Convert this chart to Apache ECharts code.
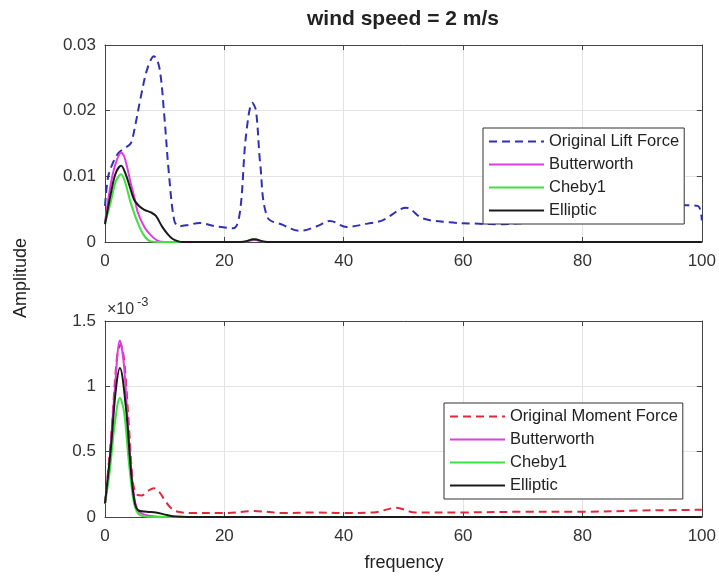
<!DOCTYPE html>
<html>
<head>
<meta charset="utf-8">
<script src="https://cdn.jsdelivr.net/npm/echarts@6/dist/echarts.min.js"></script>
<style>
html,body{margin:0;padding:0;background:#fff;}
#c{width:719px;height:580px;}
</style>
</head>
<body>
<div id="c"></div>
<script>
// ---- data (frequency, amplitude) ----
var xTicks = [0, 20, 40, 60, 80, 100];
var liftTicks = [0, 0.01, 0.02, 0.03];
var momentTicks = [0, 0.5, 1, 1.5]; // in units of 1e-3

var liftOriginal = [[0,0.0055],[0.5,0.0098],[1.2,0.0118],[2.2,0.0135],[3.3,0.0143],[4.3,0.0150],[4.9,0.0170],[6.0,0.0221],[7.1,0.0264],[8.2,0.0283],[9.1,0.0266],[9.9,0.0196],[10.7,0.0105],[11.6,0.0033],[12.4,0.0024],[14,0.0026],[15.8,0.0029],[18.5,0.0024],[21.5,0.0021],[22.6,0.0045],[23.6,0.0160],[24.7,0.0212],[25.3,0.0200],[26,0.0120],[27.2,0.0038],[29.8,0.0026],[32.7,0.0017],[35.5,0.0024],[37.7,0.0032],[40.5,0.0023],[44,0.0028],[46.5,0.0033],[50.5,0.0052],[53.2,0.0036],[57.7,0.0030],[62,0.0028],[66,0.0027],[72,0.0030],[78,0.0033],[84,0.0037],[90,0.0043],[94,0.0052],[96.5,0.0056],[99.3,0.0055],[100,0.0033]];
var liftButter = [[0,0.0030],[1.0,0.0090],[1.8,0.0120],[2.7,0.0136],[3.3,0.0128],[4.3,0.0090],[4.9,0.0069],[5.5,0.0045],[6.6,0.0023],[7.7,0.0010],[8.8,0.0002],[10,0],[22,0],[23.5,0.0001],[25,0.0003],[26.5,0.0001],[28,0],[100,0]];
var liftCheby = [[0,0.0028],[1.0,0.0062],[1.8,0.0092],[2.7,0.0103],[3.4,0.0090],[4.3,0.0060],[5.5,0.0029],[6.6,0.0009],[7.7,0.0001],[9,0],[23,0],[25,0.0004],[27,0],[100,0]];
var liftElliptic = [[0,0.0027],[1.0,0.0075],[1.8,0.0105],[2.7,0.0116],[3.4,0.0105],[4.3,0.0080],[4.9,0.0064],[5.8,0.0054],[6.6,0.0049],[7.7,0.0045],[8.5,0.0040],[9.6,0.0023],[10.5,0.0012],[11.3,0.0005],[12.3,0.0001],[13,0],[23,0],[25,0.0004],[27,0],[100,0]];

var momentOriginal = [[0,0.1],[1,0.6],[2,1.22],[2.6,1.32],[3.2,1.2],[4,0.7],[4.7,0.26],[5.4,0.17],[6.1,0.165],[7.2,0.2],[8.2,0.22],[9.1,0.19],[10,0.13],[11,0.07],[12.2,0.04],[15,0.03],[20,0.03],[25,0.045],[30,0.03],[35,0.035],[40,0.03],[45,0.035],[48.8,0.07],[52,0.035],[60,0.035],[70,0.04],[80,0.04],[90,0.05],[100,0.055]];
var momentButter = [[0,0.1],[0.8,0.45],[1.6,0.95],[2.5,1.35],[3.2,1.15],[4,0.6],[4.8,0.18],[5.5,0.05],[6.5,0.02],[8,0.005],[10,0],[100,0]];
var momentCheby = [[0,0.1],[0.8,0.35],[1.6,0.7],[2.5,0.91],[3.2,0.8],[4,0.42],[4.8,0.12],[5.5,0.03],[6.5,0.005],[8,0],[100,0]];
var momentElliptic = [[0,0.105],[1.0,0.535],[1.8,0.967],[2.5,1.14],[3.5,0.84],[4.3,0.38],[4.9,0.13],[5.5,0.053],[7,0.04],[8.5,0.035],[10.4,0.015],[12,0.003],[14,0],[100,0]];

var FONT = "'Liberation Sans', Arial, sans-serif";
var FRAME = '#444';
var C_BLUE = '#3030b4', C_RED = '#e0283c', C_MAG = '#e03ce0', C_GRN = '#40e040', C_BLK = '#1a1a1a';

function xAxes(gi) {
  return [
    {type:'value', gridIndex:gi, min:0, max:100, interval:20, position:'bottom',
     axisLine:{show:true, onZero:false, lineStyle:{color:FRAME, width:1}},
     axisTick:{show:true, inside:true, length:5, lineStyle:{color:FRAME}},
     axisLabel:{show:true, color:'#333', fontSize:17, fontFamily:FONT, margin:11},
     splitLine:{show:true, lineStyle:{color:'#e3e3e3', width:1}}},
    {type:'value', gridIndex:gi, min:0, max:100, interval:20, position:'top',
     axisLine:{show:true, onZero:false, lineStyle:{color:FRAME, width:1}},
     axisTick:{show:true, inside:true, length:5, lineStyle:{color:FRAME}},
     axisLabel:{show:false}, splitLine:{show:false}}
  ];
}
function yAxes(gi, max, interval, fmt) {
  return [
    {type:'value', gridIndex:gi, min:0, max:max, interval:interval, position:'left',
     axisLine:{show:true, onZero:false, lineStyle:{color:FRAME, width:1}},
     axisTick:{show:true, inside:true, length:5, lineStyle:{color:FRAME}},
     axisLabel:{show:true, color:'#333', fontSize:17, fontFamily:FONT, margin:9, formatter:fmt},
     splitLine:{show:true, lineStyle:{color:'#e3e3e3', width:1}}},
    {type:'value', gridIndex:gi, min:0, max:max, interval:interval, position:'right',
     axisLine:{show:true, onZero:false, lineStyle:{color:FRAME, width:1}},
     axisTick:{show:true, inside:true, length:5, lineStyle:{color:FRAME}},
     axisLabel:{show:false}, splitLine:{show:false}}
  ];
}
function line(name, data, xi, yi, color, dashed) {
  return {
    name:name, type:'line', data:data, xAxisIndex:xi, yAxisIndex:yi,
    smooth:0.35, symbol:'none', showSymbol:false, animation:false,
    legendIcon:'none',
    lineStyle:{color:color, width:2, type: dashed ? [8,5] : 'solid'},
    itemStyle:{color:color}
  };
}
function fmtTicks(list) {
  return function (v) {
    for (var i = 0; i < list.length; i++) if (Math.abs(list[i] - v) < 1e-9) return String(list[i]);
    return '';
  };
}

var chart = echarts.init(document.getElementById('c'), null, {renderer:'canvas'});
var legendCommon = {
  orient:'vertical', itemWidth:55, itemHeight:14, itemGap:6,
  backgroundColor:'#fff', borderColor:'#333', borderWidth:1, borderRadius:0,
  padding:[5,5,5,5], selectedMode:false,
  itemStyle:{opacity:0},
  textStyle:{fontSize:16.5, fontFamily:FONT, color:'#222', lineHeight:17}
};
chart.setOption({
  backgroundColor:'#fff',
  animation:false,
  grid:[
    {left:105, top:45, width:598, height:197, show:false},
    {left:105, top:321, width:598, height:196, show:false}
  ],
  xAxis: xAxes(0).concat(xAxes(1)),
  yAxis: yAxes(0, 0.03, 0.01, fmtTicks(liftTicks)).concat(yAxes(1, 1.5, 0.5, fmtTicks(momentTicks))),
  legend:[
    Object.assign({}, legendCommon, {left:483, top:128,
      data:['Original Lift Force','Butterworth','Cheby1','Elliptic']}),
    Object.assign({}, legendCommon, {left:444, top:403,
      data:['Original Moment Force','Butterworth ','Cheby1 ','Elliptic ']})
  ],
  series:[
    line('Original Lift Force', liftOriginal, 0, 0, C_BLUE, true),
    line('Butterworth', liftButter, 0, 0, C_MAG, false),
    line('Cheby1', liftCheby, 0, 0, C_GRN, false),
    line('Elliptic', liftElliptic, 0, 0, C_BLK, false),
    line('Original Moment Force', momentOriginal, 2, 2, C_RED, true),
    line('Butterworth ', momentButter, 2, 2, C_MAG, false),
    line('Cheby1 ', momentCheby, 2, 2, C_GRN, false),
    line('Elliptic ', momentElliptic, 2, 2, C_BLK, false)
  ],
  graphic:[
    {type:'text', position:[403,19], style:{text:'wind speed = 2 m/s', fontSize:21, fontWeight:'bold', fontFamily:FONT, fill:'#222', textAlign:'center', textVerticalAlign:'middle'}},
    {type:'text', rotation:Math.PI/2, position:[21,278],
     style:{text:'Amplitude', x:0, y:0, fontSize:18, fontFamily:FONT, fill:'#222', textAlign:'center', textVerticalAlign:'middle'}},
    {type:'text', position:[107,318], style:{text:'×10', fontSize:16, fontFamily:FONT, fill:'#333', textVerticalAlign:'bottom'}},
    {type:'text', position:[137,309], style:{text:'-3', fontSize:13, fontFamily:FONT, fill:'#333', textVerticalAlign:'bottom'}},
    {type:'text', position:[404,563], style:{text:'frequency', fontSize:18, fontFamily:FONT, fill:'#222', textAlign:'center', textVerticalAlign:'middle'}}
  ]
});
</script>
</body>
</html>
